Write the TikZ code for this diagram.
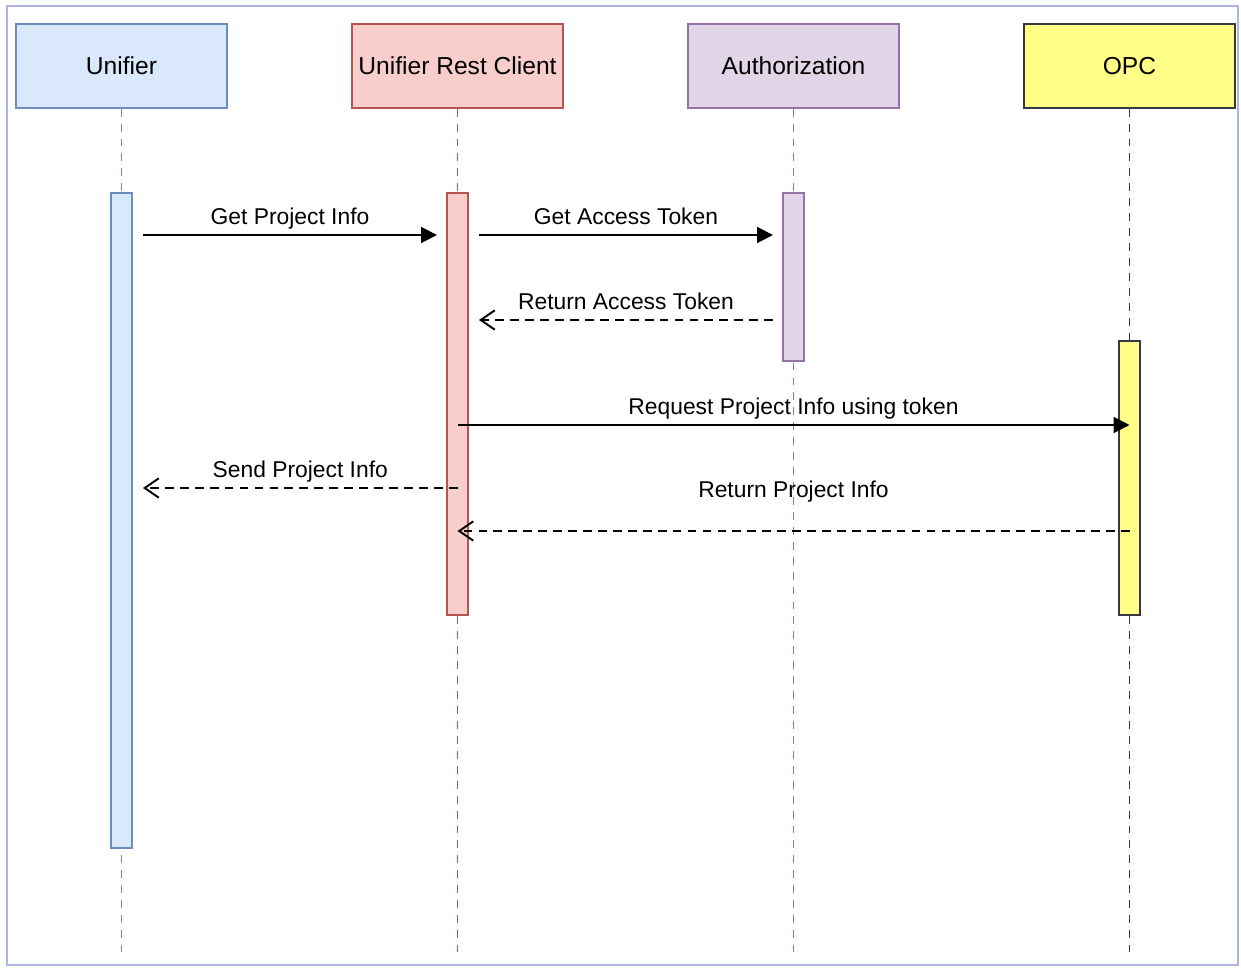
\documentclass[tikz,border=0pt]{standalone}
\usepackage{fontspec}
\setmainfont{Liberation Sans}
\usetikzlibrary{arrows.meta}

\definecolor{unifierFill}{HTML}{DAE8FC}
\definecolor{unifierLine}{HTML}{6C8EBF}
\definecolor{clientFill}{HTML}{F8CECC}
\definecolor{clientLine}{HTML}{B85450}
\definecolor{authFill}{HTML}{E1D5E7}
\definecolor{authLine}{HTML}{9673A6}
\definecolor{opcFill}{HTML}{FFFF88}
\definecolor{opcLine}{HTML}{36393D}
\definecolor{frameLine}{HTML}{AEB4E4}

\begin{document}
\begin{tikzpicture}[x=0.02cm, y=-0.02cm,
    head/.style={draw, line width=0.8pt, minimum width=4.22cm, minimum height=1.68cm,
      font=\fontsize{14}{16}\selectfont},
    bar/.style={draw, line width=0.8pt, minimum width=0.42cm, inner sep=0pt},
    life/.style={dash pattern=on 4.5pt off 4pt, line width=0.8pt},
    call/.style={-{Triangle[length=9pt,width=9pt]}, line width=1.1pt},
    reply/.style={-{Straight Barb[length=8pt,width=11pt]}, dash pattern=on 5pt off 3.5pt, line width=1.1pt},
    lbl/.style={font=\fontsize{13}{15}\selectfont, text height=0.72em, text depth=0.22em}]
  \useasboundingbox (0,0) rectangle (1241,969);
  \draw[frameLine, line width=0.6pt] (7,6) rectangle (1238,965);

  % participants
  \node[head, fill=unifierFill, draw=unifierLine] (U)    at ( 121.5, 66) {Unifier};
  \node[head, fill=clientFill,  draw=clientLine]  (URC)  at ( 457.5, 66) {Unifier Rest Client};
  \node[head, fill=authFill,    draw=authLine]    (Auth) at ( 793.5, 66) {Authorization};
  \node[head, fill=opcFill,     draw=opcLine]     (OPC)  at (1129.5, 66) {OPC};

  % lifelines
  \coordinate (Uend)    at ( 121.5, 952);
  \coordinate (URCend)  at ( 457.5, 952);
  \coordinate (Authend) at ( 793.5, 952);
  \coordinate (OPCend)  at (1129.5, 952);
  \draw[life, draw=unifierLine] (U)    -- (Uend);
  \draw[life, draw=clientLine]  (URC)  -- (URCend);
  \draw[life, draw=authLine]    (Auth) -- (Authend);
  \draw[life, draw=opcLine]     (OPC)  -- (OPCend);

  % activations
  \node[bar, fill=unifierFill, draw=unifierLine, minimum height=13.1cm]  (Ubar)    at ( 121.5, 520.5) {};
  \node[bar, fill=clientFill,  draw=clientLine,  minimum height=8.44cm]  (URCbar)  at ( 457.5, 404) {};
  \node[bar, fill=authFill,    draw=authLine,    minimum height=3.36cm]  (Authbar) at ( 793.5, 277) {};
  \node[bar, fill=opcFill,     draw=opcLine,     minimum height=5.48cm]  (OPCbar)  at (1129.5, 478) {};

  % messages
  \coordinate (getInfoA)   at ( 143, 235);
  \coordinate (getInfoB)   at ( 437, 235);
  \coordinate (getTokenA)  at ( 479, 235);
  \coordinate (getTokenB)  at ( 773, 235);
  \coordinate (retTokenA)  at ( 773, 320);
  \coordinate (retTokenB)  at ( 479, 320);
  \coordinate (reqInfoA)   at ( 457.5, 425);
  \coordinate (reqInfoB)   at (1129.5, 425);
  \coordinate (sendInfoA)  at ( 457.5, 488);
  \coordinate (sendInfoB)  at ( 143, 488);
  \coordinate (retInfoA)   at (1129.5, 531);
  \coordinate (retInfoB)   at ( 457.5, 531);

  \draw[call]  (getInfoA)  to node[lbl, above] {Get Project Info} (getInfoB);
  \draw[call]  (getTokenA) to node[lbl, above] {Get Access Token} (getTokenB);
  \draw[reply] (retTokenA) to node[lbl, above] {Return Access Token} (retTokenB);
  \draw[call]  (reqInfoA)  to node[lbl, above] {Request Project Info using token} (reqInfoB);
  \draw[reply] (sendInfoA) to node[lbl, above] {Send Project Info} (sendInfoB);
  \draw[reply] (retInfoA)  to node[lbl, above=0.45cm] {Return Project Info} (retInfoB);
\end{tikzpicture}
\end{document}
